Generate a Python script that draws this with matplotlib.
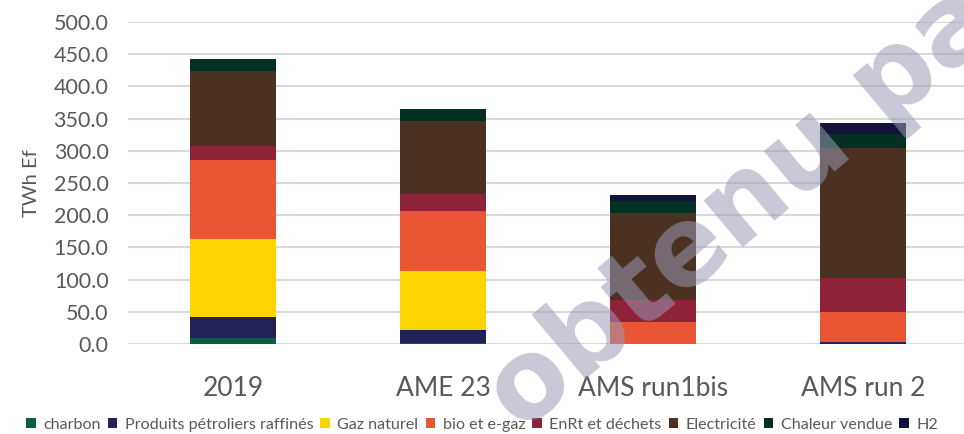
import matplotlib
matplotlib.use("Agg")
import matplotlib.pyplot as plt
import numpy as np

categories = ["2019", "AME 23", "AMS run1bis", "AMS run 2"]
series_names = ["charbon", "Produits pétroliers raffinés", "Gaz naturel", "bio et e-gaz",
                "EnRt et déchets", "Electricité", "Chaleur vendue", "H2"]
charbon = [10, 1, 0, 0]
produits = [32, 21, 0, 3]
gaz = [121, 91, 0, 0]
bio = [122, 93, 34, 47]
enrt = [22, 27, 34, 52]
elec = [117, 113, 135, 202]
chaleur = [18, 19, 19, 22]
h2 = [0, 0, 9, 17]
yticks = [0, 50, 100, 150, 200, 250, 300, 350, 400, 450, 500]

series = [charbon, produits, gaz, bio, enrt, elec, chaleur, h2]
colors = ["#075E45", "#22215A", "#FFD500", "#EA5634", "#8E2239", "#4A3121", "#023124", "#12123A"]

plt.rcParams['font.family'] = ['Lato', 'DejaVu Sans']
fig = plt.figure(figsize=(9.64, 4.34), dpi=100)
ax = fig.add_axes([128/964, 1 - 344/434, (968-128)/964, (344-22)/434])

x = np.arange(len(categories))
bottom = np.zeros(len(categories))
for name, vals, c in zip(series_names, series, colors):
    ax.bar(x, vals, width=0.405, bottom=bottom, color=c, label=name, zorder=3)
    bottom += np.array(vals)

ax.set_xlim(-0.5, 3.5)
ax.set_ylim(0, 500)
ax.set_yticks(yticks)
ax.set_yticklabels([f"{v:.1f}" for v in yticks])
ax.set_xticks(x)
ax.set_xticklabels(categories)
ax.grid(axis='y', color='#d9d9d9', linewidth=1.5, zorder=0)
for s in ax.spines.values():
    s.set_visible(False)
ax.tick_params(axis='y', length=0, labelsize=15.5, labelcolor='#595959', pad=14)
ax.tick_params(axis='x', length=0, labelsize=19, labelcolor='#595959', pad=23)
ax.set_ylabel("TWh Ef", fontsize=14.5, color='#595959', labelpad=10)

handles, labels = ax.get_legend_handles_labels()
fig.legend(handles, labels, loc='center', bbox_to_anchor=(482/964, 1 - 425/434), ncol=8,
           frameon=False, fontsize=11.6, labelcolor='#595959', handlelength=0.6, handleheight=0.6,
           handletextpad=0.45, columnspacing=0.45, borderaxespad=0)

wm = fig.text(521/964, 0.002, "obtenu pa", fontsize=79, fontweight='bold',
              family='DejaVu Sans', color='#9a9ab5', alpha=0.55, rotation=40,
              rotation_mode='anchor', ha='left', va='baseline', zorder=10)
wm.set_clip_on(True)

fig.savefig("out.png", dpi=100)
